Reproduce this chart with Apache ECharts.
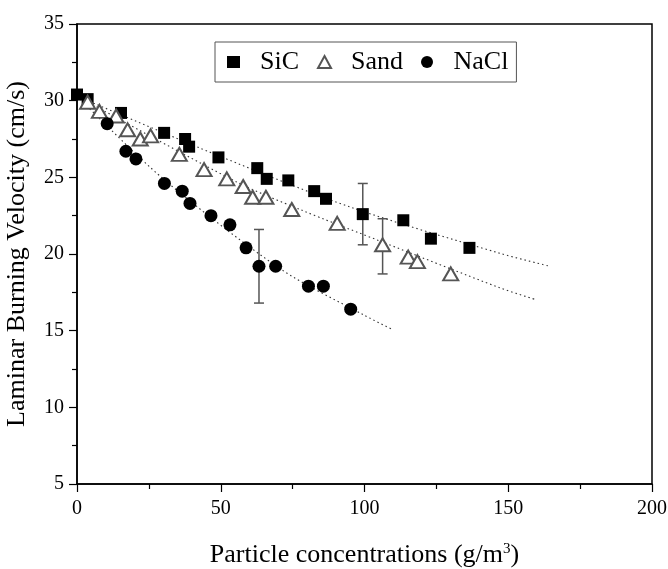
<!DOCTYPE html>
<html>
<head>
<meta charset="utf-8">
<script src="https://cdn.jsdelivr.net/npm/echarts@6/dist/echarts.min.js"></script>
<style>
  html, body { margin: 0; padding: 0; background: #fff; }
  #chart { width: 668px; height: 569px; }
</style>
</head>
<body>
<div id="chart"></div>
<script>
// measured points (g/m3, cm/s)
const sicX = [0, 3.7, 15.3, 30.3, 37.6, 39.0, 49.2, 62.7, 66.0, 73.5, 82.5, 86.6, 99.4, 113.5, 123.1, 136.5];
const sicY = [30.4, 30.1, 29.2, 27.9, 27.5, 27.0, 26.3, 25.6, 24.9, 24.8, 24.1, 23.6, 22.6, 22.2, 21.0, 20.4];

const sandX = [3.7, 7.8, 13.6, 17.6, 22.0, 25.6, 35.6, 44.2, 52.1, 57.8, 61.1, 65.7, 74.7, 90.5, 106.3, 115.2, 118.4, 130.0];
const sandY = [29.9, 29.3, 29.0, 28.1, 27.5, 27.7, 26.5, 25.5, 24.9, 24.4, 23.7, 23.7, 22.9, 22.0, 20.6, 19.8, 19.5, 18.7];

const naclX = [10.5, 17.0, 20.5, 30.4, 36.6, 39.3, 46.6, 53.2, 58.8, 63.3, 69.1, 80.5, 85.7, 95.2];
const naclY = [28.5, 26.7, 26.2, 24.6, 24.1, 23.3, 22.5, 21.9, 20.4, 19.2, 19.2, 17.9, 17.9, 16.4];

// dotted trend lines
const sicFitX = [0, 50, 96, 147, 164.5];
const sicFitY = [30.3, 26.35, 23.0, 20.05, 19.2];
const sandFitX = [0, 55.5, 77.6, 106, 147, 160];
const sandFitY = [30.3, 24.7, 22.9, 20.8, 17.8, 17.0];
const naclFitX = [0, 30, 71, 100, 110];
const naclFitY = [30.3, 24.9, 19.0, 16.0, 15.05];

// error bars
const errX = [63.3, 99.4, 106.3];
const errLow = [16.8, 20.6, 18.7];
const errHigh = [21.6, 24.6, 22.3];

const zip = (xs, ys) => xs.map((x, i) => [x, ys[i]]);
const font = 'Liberation Serif';

const chart = echarts.init(document.getElementById('chart'));

const fitLine = (name, xs, ys) => ({
    name: name,
    type: 'line',
    data: zip(xs, ys),
    showSymbol: false,
    smooth: 0.3,
    silent: true,
    z: 1,
    lineStyle: { color: '#333', width: 1.1, type: [1.5, 3] }
});

const options = {
    animation: false,
    backgroundColor: '#fff',
    grid: {
        left: 77, right: 16, top: 24, bottom: 85,
        containLabel: false,
        outerBoundsMode: 'none',
        show: true, borderColor: '#000', borderWidth: 1.5, backgroundColor: 'transparent'
    },
    legend: {
        data: ['SiC', 'Sand', 'NaCl'],
        left: 215,
        top: 42,
        padding: [7, 8, 7, 12],
        itemGap: 18,
        itemWidth: 13,
        itemHeight: 12,
        borderColor: '#555',
        borderWidth: 1,
        textStyle: { fontFamily: font, fontSize: 26, color: '#000', padding: [0, 0, 0, 15] }
    },
    xAxis: {
        type: 'value',
        min: 0, max: 200, interval: 50,
        name: 'Particle concentrations (g/m{sup|3})',
        nameLocation: 'middle',
        nameGap: 58,
        nameTextStyle: {
            fontFamily: font, fontSize: 26, color: '#000',
            rich: { sup: { fontFamily: font, fontSize: 15, color: '#000', verticalAlign: 'top', padding: [0, 0, 12, 0] } }
        },
        axisLine: { lineStyle: { color: '#000', width: 1.5 } },
        axisTick: { inside: false, length: 8, lineStyle: { color: '#000', width: 1.2 } },
        minorTick: { show: true, splitNumber: 2, length: 5, lineStyle: { color: '#000', width: 1.2 } },
        axisLabel: { fontFamily: font, fontSize: 20, color: '#000', margin: 15 },
        splitLine: { show: false }
    },
    yAxis: {
        type: 'value',
        min: 5, max: 35, interval: 5,
        name: 'Laminar Burning Velocity (cm/s)',
        nameLocation: 'middle',
        nameGap: 47,
        nameTextStyle: { fontFamily: font, fontSize: 26, color: '#000' },
        axisLine: { show: true, lineStyle: { color: '#000', width: 1.5 } },
        axisTick: { show: true, inside: false, length: 8, lineStyle: { color: '#000', width: 1.2 } },
        minorTick: { show: true, splitNumber: 2, length: 5, lineStyle: { color: '#000', width: 1.2 } },
        axisLabel: { fontFamily: font, fontSize: 20, color: '#000', margin: 13 },
        splitLine: { show: false }
    },
    series: [
        fitLine('sicFit', sicFitX, sicFitY),
        fitLine('sandFit', sandFitX, sandFitY),
        fitLine('naclFit', naclFitX, naclFitY),
        {
            name: 'err',
            type: 'custom',
            silent: true,
            z: 2,
            data: errX.map((x, i) => [x, errLow[i], errHigh[i]]),
            renderItem: function (params, api) {
                const lo = api.coord([api.value(0), api.value(1)]);
                const hi = api.coord([api.value(0), api.value(2)]);
                const w = 5;
                const st = { stroke: '#555', lineWidth: 1.5 };
                return {
                    type: 'group',
                    children: [
                        { type: 'line', shape: { x1: lo[0], y1: lo[1], x2: hi[0], y2: hi[1] }, style: st },
                        { type: 'line', shape: { x1: lo[0] - w, y1: lo[1], x2: lo[0] + w, y2: lo[1] }, style: st },
                        { type: 'line', shape: { x1: hi[0] - w, y1: hi[1], x2: hi[0] + w, y2: hi[1] }, style: st }
                    ]
                };
            }
        },
        {
            name: 'SiC',
            type: 'scatter',
            symbol: 'rect',
            symbolSize: 12,
            z: 3,
            data: zip(sicX, sicY),
            itemStyle: { color: '#000', opacity: 1 }
        },
        {
            name: 'Sand',
            type: 'scatter',
            symbol: 'triangle',
            symbolSize: [15, 13],
            z: 3,
            data: zip(sandX, sandY),
            itemStyle: { color: '#fff', borderColor: '#555', borderWidth: 2, opacity: 1 }
        },
        {
            name: 'NaCl',
            type: 'scatter',
            symbol: 'circle',
            symbolSize: 13,
            z: 3,
            data: zip(naclX, naclY),
            itemStyle: { color: '#000', opacity: 1 }
        }
    ]
};

chart.setOption(options);
</script>
</body>
</html>
